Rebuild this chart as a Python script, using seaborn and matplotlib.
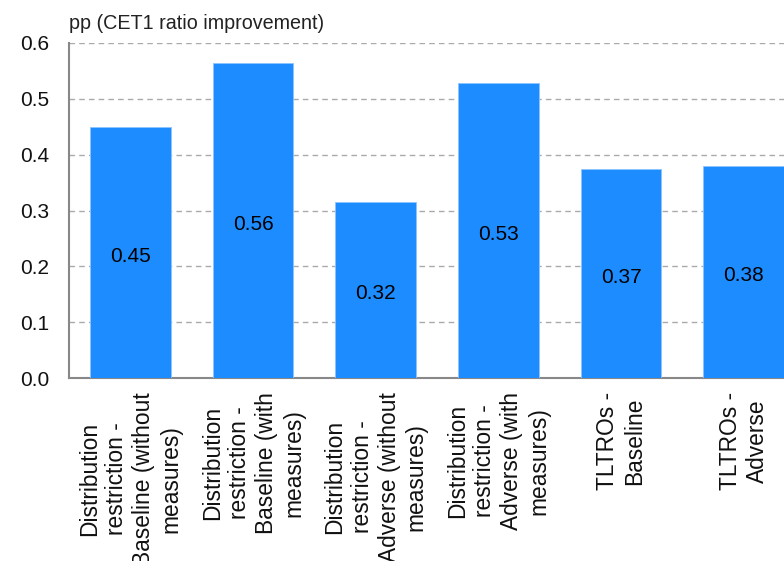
import matplotlib
matplotlib.use("Agg")
import matplotlib.pyplot as plt
import matplotlib.transforms as mtransforms
import seaborn as sns
import pandas as pd

categories = [
    "Distribution\nrestriction -\nBaseline (without\nmeasures)",
    "Distribution\nrestriction -\nBaseline (with\nmeasures)",
    "Distribution\nrestriction -\nAdverse (without\nmeasures)",
    "Distribution\nrestriction -\nAdverse (with\nmeasures)",
    "TLTROs -\nBaseline",
    "TLTROs -\nAdverse",
]
values = [0.45, 0.564, 0.316, 0.528, 0.374, 0.38]
y_ticks = [0.0, 0.1, 0.2, 0.3, 0.4, 0.5, 0.6]
unit_label = "pp (CET1 ratio improvement)"

sns.set_theme(style="white")
plt.rcParams["font.family"] = ["Liberation Sans", "DejaVu Sans"]

df = pd.DataFrame({"cat": categories, "val": values})

W, H = 784, 561
fig = plt.figure(figsize=(W / 100, H / 100), dpi=100)
left, right, top, bottom = 69, 805, 43, 378
ax = fig.add_axes([left / W, 1 - bottom / H, (right - left) / W, (bottom - top) / H])

bar_color = "#1c8cff"
sns.barplot(data=df, x="cat", y="val", color=bar_color, saturation=1,
            width=0.66, edgecolor="#8cc4ff", linewidth=0.6, ax=ax, zorder=3)

ax.set_ylim(0, 0.6)
ax.set_xlim(-0.5, len(categories) - 0.5)
ax.set_yticks(y_ticks)
ax.set_yticklabels([f"{t:.1f}" for t in y_ticks], fontsize=15)
ax.tick_params(axis="y", length=0, pad=14, labelcolor="#111111")

ax.set_xticks(range(len(categories)))
ax.set_xticklabels(categories, rotation=90, fontsize=16.4, ha="center", va="top",
                   multialignment="center", linespacing=1.23)
ax.tick_params(axis="x", which="major", length=0, pad=10, labelcolor="#111111")
ax.set_xticks([i + 0.5 for i in range(len(categories) - 1)], minor=True)
ax.tick_params(axis="x", which="minor", direction="in", length=5, width=1,
               color="#888888")

ax.set_xlabel("")
ax.set_ylabel("")

ax.yaxis.grid(True, linestyle=(0, (4, 3)), color="#aaaaaa", linewidth=1, zorder=0)
ax.set_axisbelow(True)

for s in ["top", "right"]:
    ax.spines[s].set_visible(False)
for s in ["left", "bottom"]:
    ax.spines[s].set_color("#888888")
    ax.spines[s].set_linewidth(1.5)

label_shift = mtransforms.offset_copy(ax.transData, fig=fig, x=0, y=-4, units="dots")
for i, v in enumerate(values):
    ax.text(i, v / 2, f"{v:.2f}", ha="center", va="center", fontsize=15,
            color="#000000", zorder=4, transform=label_shift)

fig.text(left / W, 1 - 29 / H, unit_label, ha="left", va="baseline",
         fontsize=14.2, color="#222222")

fig.savefig("out.png", dpi=100)
